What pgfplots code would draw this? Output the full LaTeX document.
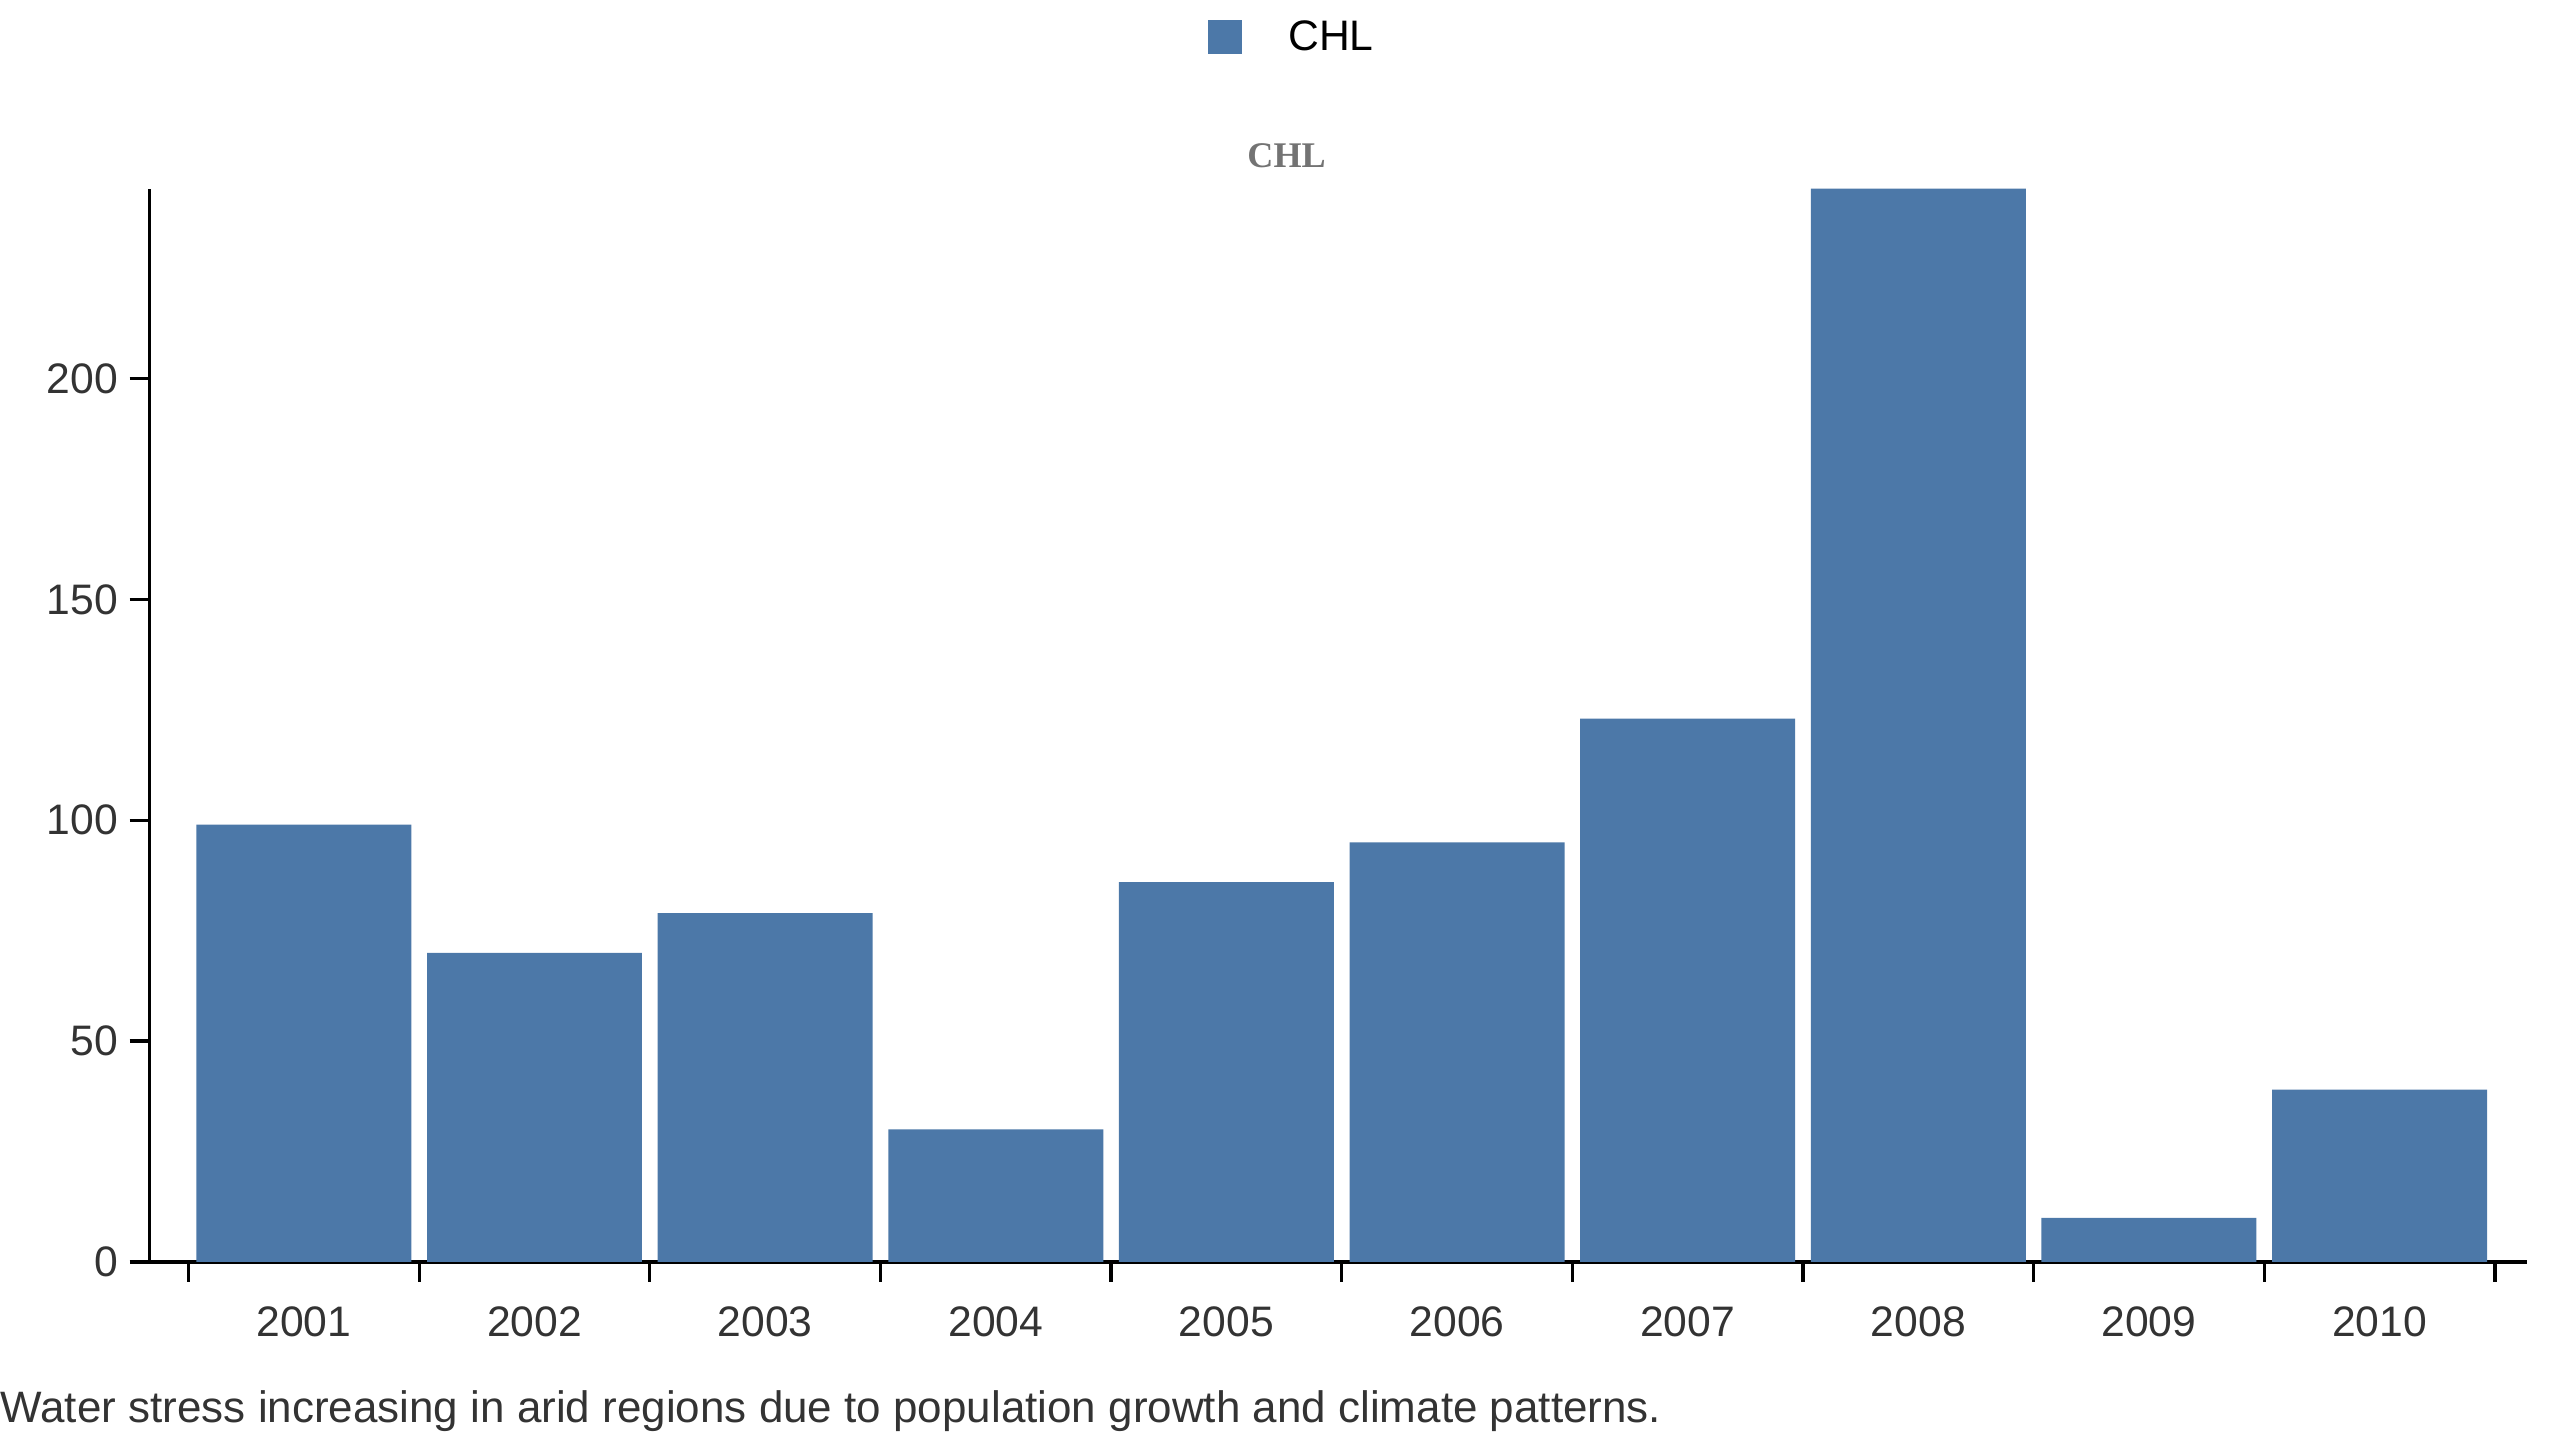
\documentclass[border=0pt]{standalone}
\usepackage{pgfplots}
\pgfplotsset{compat=1.18}
\usepackage{fontspec}
\setmainfont{Liberation Sans}
\newfontfamily\serifb{Liberation Serif}
\definecolor{bar}{HTML}{4C78A8}
\definecolor{txt}{HTML}{333333}
\begin{document}
\begin{tikzpicture}[x=0.5pt,y=0.5pt]
\useasboundingbox (0,0) rectangle (1560,878);
\begin{axis}[at={(45.5pt,54.5pt)},anchor=south west,
  scale only axis, width=724.5pt, height=327pt,
  xmin=-0.67, xmax=9.64, ymin=0, ymax=243,
  axis x line*=bottom, axis y line*=left,
  axis line style={black, line width=1pt},
  xtick={0,...,9}, xticklabels={2001,2002,2003,2004,2005,2006,2007,2008,2009,2010},
  x tick style={draw=none},
  extra x ticks={-0.5,0.5,...,9.5}, extra x tick labels={},
  extra x tick style={x tick style={draw=black,line width=1pt}, major tick length=6pt, tick align=outside},
  ytick={0,50,100,150,200},
  y tick style={black,line width=1pt}, major tick length=6pt, tick align=outside,
  ticklabel style={font=\fontsize{13}{15}\selectfont, text=txt},
  /pgf/number format/assume math mode=true,
  xticklabel style={yshift=-4pt},
  ybar, bar width=65.5pt, bar shift=0pt,
]
\addplot[fill=bar, draw=none] coordinates {(0,99)(1,70)(2,79)(3,30)(4,86)(5,95)(6,123)(7,243)(8,10)(9,39)};
\end{axis}
\node[font=\serifb\bfseries\fontsize{11}{13}\selectfont, text=gray!90!black] at (784,783) {CHL};
\fill[bar] (736,845) rectangle (757,866);
\node[anchor=west, font=\fontsize{13}{15}\selectfont] at (778,856) {CHL};
\node[anchor=west, inner sep=0pt, font=\fontsize{13.4}{15}\selectfont, text=txt] at (0,18) {Water stress increasing in arid regions due to population growth and climate patterns.};
\end{tikzpicture}
\end{document}
